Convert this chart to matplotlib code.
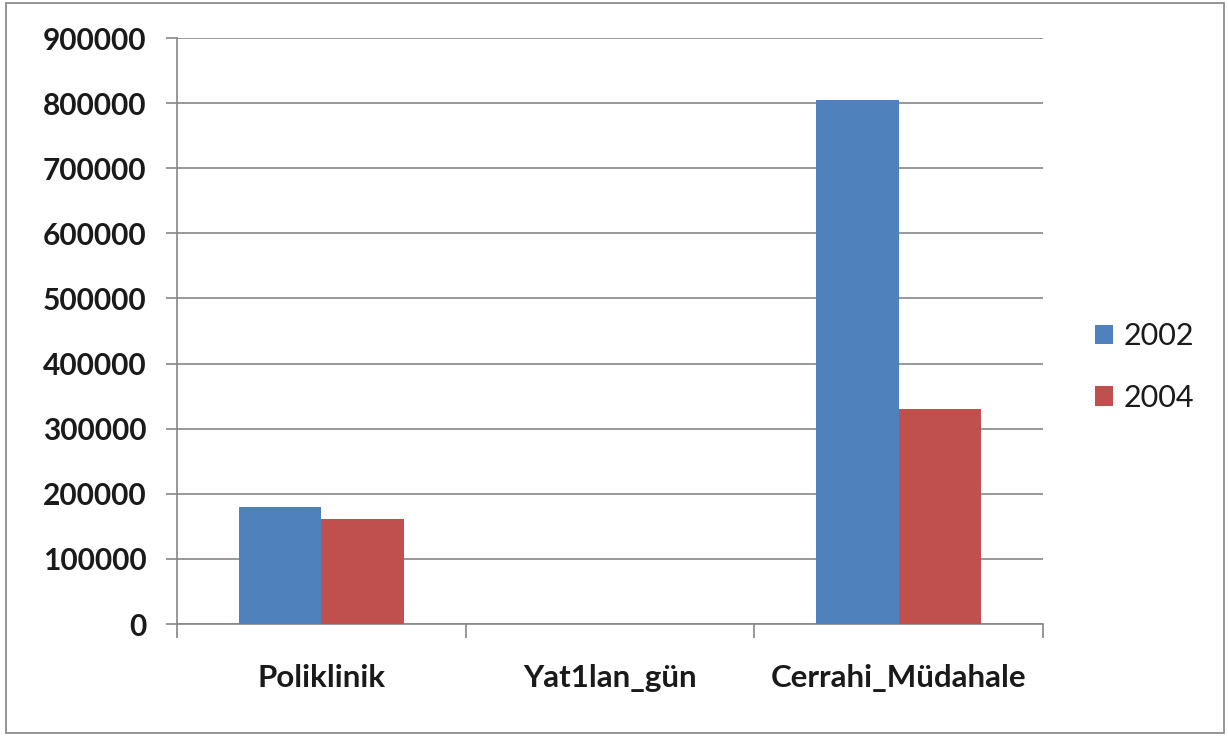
import matplotlib
matplotlib.use("Agg")
import matplotlib.pyplot as plt
import numpy as np
from matplotlib.patches import Rectangle

categories = ["Poliklinik", "Yat1lan_gün", "Cerrahi_Müdahale"]
series_names = ["2002", "2004"]
values_2002 = [180000, 0, 805000]
values_2004 = [161000, 0, 330000]
yticks = [0, 100000, 200000, 300000, 400000, 500000, 600000, 700000, 800000, 900000]

plt.rcParams["font.family"] = ["Lato", "DejaVu Sans"]

W, H = 1228, 736
fig = plt.figure(figsize=(W / 100, H / 100), dpi=100)
fig.patch.set_facecolor("white")

# outer chart frame
fig.add_artist(Rectangle((6 / W, 3 / H), (W - 10) / W, (H - 6) / H,
                         transform=fig.transFigure, fill=False,
                         edgecolor="#8c8c8c", linewidth=1.3))

ax = fig.add_axes([177 / W, 1 - 624 / H, (1043 - 177) / W, (624 - 38) / H])

x = np.arange(len(categories))
width = 1 / 3.5
blue, red = "#4F81BD", "#C0504D"
ax.bar(x - width / 2, values_2002, width, color=blue, label=series_names[0], zorder=3)
ax.bar(x + width / 2, values_2004, width, color=red, label=series_names[1], zorder=3)

ax.set_xlim(-0.5, len(categories) - 0.5)
ax.set_ylim(0, 900000)
ax.set_yticks(yticks)
ax.set_yticklabels([str(v) for v in yticks])
ax.yaxis.grid(True, color="#868686", linewidth=1.2, zorder=0)
ax.set_axisbelow(True)

ax.set_xticks(x)
ax.set_xticklabels(categories)
ax.set_xticks(np.arange(-0.5, len(categories)), minor=True)
ax.tick_params(axis="x", which="major", length=0, pad=29)
ax.tick_params(axis="x", which="minor", length=10, width=1.2, color="#868686", direction="out")
ax.tick_params(axis="y", length=8, width=1.2, color="#868686", direction="out", pad=14)

for lab in ax.get_xticklabels():
    lab.set_fontsize(22.5)
    lab.set_fontweight("bold")
    lab.set_color("#1a1a1a")
for lab in ax.get_yticklabels():
    lab.set_fontsize(21.5)
    lab.set_fontweight("bold")
    lab.set_color("#1a1a1a")

for side in ["top", "right"]:
    ax.spines[side].set_visible(False)
for side in ["left", "bottom"]:
    ax.spines[side].set_color("#868686")
    ax.spines[side].set_linewidth(1.2)

leg = fig.legend(loc="center left", bbox_to_anchor=(1067 / W, 1 - 367 / H),
                 frameon=False, fontsize=22, handlelength=0.6, handleheight=0.6,
                 handletextpad=0.35, labelspacing=1.1)
for t in leg.get_texts():
    t.set_color("#1a1a1a")

fig.savefig("out.png", dpi=100)
